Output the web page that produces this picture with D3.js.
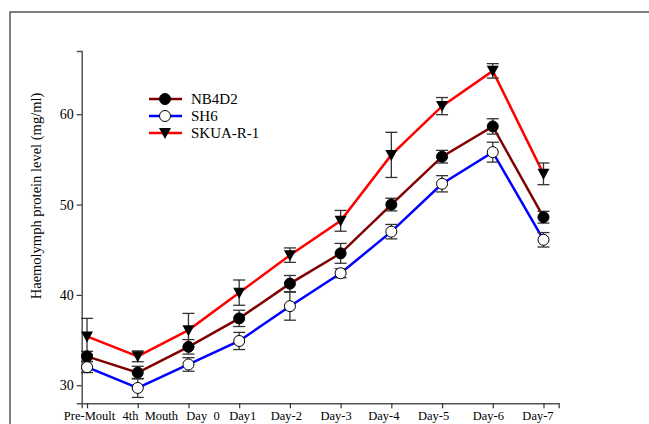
<!DOCTYPE html>
<html>
<head>
<meta charset="utf-8">
<script src="https://cdn.jsdelivr.net/npm/d3@7"></script>
<style>
  body { margin: 0; background: #fff; }
</style>
</head>
<body>
<svg id="chart"></svg>
<script>
// Các nhãn trục X
const categories = ["Pre-Moult", "4th  Mouth", "Day  0", "Day1", "Day-2", "Day-3", "Day-4", "Day-5", "Day-6", "Day-7"];

// Giá trị từng dòng (mg/ml) và sai số
const nb4d2 = [33.2, 31.4, 34.25, 37.4, 41.25, 44.6, 50.0, 55.3, 58.65, 48.6];
const nb4d2Err = [0.55, 0.7, 0.8, 0.9, 0.9, 1.1, 0.7, 0.7, 0.85, 0.65];
const sh6 = [32.0, 29.7, 32.3, 34.9, 38.75, 42.4, 47.0, 52.3, 55.8, 46.1];
const sh6Err = [0.6, 1.05, 0.75, 0.95, 1.55, 0.5, 0.8, 0.9, 1.1, 0.8];
const skua = [35.4, 33.2, 36.1, 40.25, 44.4, 48.2, 55.5, 60.9, 64.8, 53.4];
const skuaErr = [2.0, 0.6, 1.85, 1.4, 0.8, 1.15, 2.5, 0.95, 0.8, 1.2];

const yTicks = [30, 40, 50, 60];

const series = [
  { name: "NB4D2", values: nb4d2, err: nb4d2Err, color: "#800000", marker: "dot" },
  { name: "SH6", values: sh6, err: sh6Err, color: "#0000ff", marker: "open" },
  { name: "SKUA-R-1", values: skua, err: skuaErr, color: "#ff0000", marker: "tri" }
];

// nhãn trục X trong ảnh gốc hơi lệch khỏi vạch chia (px)
const labelShift = [2, 12, 14, 3, -4, -5, -8, -9, -5, -6];

const FONT = "'Liberation Serif', 'Times New Roman', 'DejaVu Serif', serif";

const width = 649, height = 424;
const svg = d3.select("#chart").attr("width", width).attr("height", height)
  .attr("font-family", FONT);

// Khung viền ngoài
svg.append("rect")
  .attr("x", 10).attr("y", 12)
  .attr("width", 700).attr("height", 500)
  .attr("fill", "none").attr("stroke", "#555").attr("stroke-width", 1.5);

// Tỷ lệ trục
const x = d3.scaleLinear().domain([-0.105, 9.3]).range([81.7, 558.7]);
const y = d3.scaleLinear().domain([28, 67]).range([403.3, 51]);

// Trục X
const xAxis = svg.append("g")
  .attr("transform", `translate(0, ${y(28)})`)
  .call(d3.axisBottom(x)
    .tickValues(d3.range(categories.length))
    .tickFormat(i => categories[i])
    .tickSizeOuter(0).tickSize(5));
xAxis.attr("font-family", FONT);
xAxis.select(".domain").attr("stroke", "#555").attr("stroke-width", 1.5);
xAxis.selectAll(".tick line").attr("stroke", "#333").attr("stroke-width", 1.2);
xAxis.selectAll("text")
  .attr("font-family", FONT)
  .attr("font-size", 12.5)
  .attr("xml:space", "preserve")
  .style("white-space", "pre")
  .attr("x", i => labelShift[i])
  .attr("y", 8)
  .attr("dy", "0.71em");

// Trục Y
const yAxis = svg.append("g")
  .attr("transform", `translate(${x(-0.105)}, 0)`)
  .call(d3.axisLeft(y).tickValues(yTicks).tickSizeOuter(0).tickSize(5));
yAxis.attr("font-family", FONT);
yAxis.select(".domain").attr("stroke", "#555").attr("stroke-width", 1.5);
yAxis.selectAll(".tick line").attr("stroke", "#333").attr("stroke-width", 1.2);
yAxis.selectAll("text").attr("font-family", FONT).attr("font-size", 14).attr("x", -8);

// Tiêu đề trục Y
svg.append("text")
  .attr("transform", "translate(41, 196) rotate(-90)")
  .attr("text-anchor", "middle")
  .attr("font-family", FONT)
  .attr("font-size", 14.5)
  .text("Haemolymph protein level (mg/ml)");

// Đường nối
const line = d3.line().x((d, i) => x(i)).y(d => y(d));
series.forEach(s => {
  svg.append("path")
    .datum(s.values)
    .attr("d", line)
    .attr("fill", "none")
    .attr("stroke", s.color)
    .attr("stroke-width", 2.5);
});

// Thanh sai số
const cap = 6;
series.forEach(s => {
  const g = svg.append("g").attr("stroke", "#333").attr("stroke-width", 1.3);
  s.values.forEach((v, i) => {
    const cx = x(i), top = y(v + s.err[i]), bot = y(v - s.err[i]);
    g.append("line").attr("x1", cx).attr("x2", cx).attr("y1", top).attr("y2", bot);
    g.append("line").attr("x1", cx - cap).attr("x2", cx + cap).attr("y1", top).attr("y2", top);
    g.append("line").attr("x1", cx - cap).attr("x2", cx + cap).attr("y1", bot).attr("y2", bot);
  });
});

// Ký hiệu điểm
function drawMarker(g, type, cx, cy) {
  if (type === "tri") {
    g.append("path")
      .attr("d", `M${cx - 6},${cy - 5} L${cx + 6},${cy - 5} L${cx},${cy + 6} Z`)
      .attr("fill", "#000");
  } else {
    g.append("circle")
      .attr("cx", cx).attr("cy", cy).attr("r", 5.5)
      .attr("fill", type === "dot" ? "#000" : "#fff")
      .attr("stroke", "#000").attr("stroke-width", 1);
  }
}
series.forEach(s => {
  const g = svg.append("g");
  s.values.forEach((v, i) => drawMarker(g, s.marker, x(i), y(v)));
});

// Chú thích
const legendY = [99, 116, 133];
series.forEach((s, i) => {
  const g = svg.append("g");
  g.append("line")
    .attr("x1", 149).attr("x2", 182)
    .attr("y1", legendY[i]).attr("y2", legendY[i])
    .attr("stroke", s.color).attr("stroke-width", 2.5);
  drawMarker(g, s.marker, 165, legendY[i]);
  g.append("text")
    .attr("x", 191).attr("y", legendY[i])
    .attr("dy", "0.35em")
    .attr("font-family", FONT)
    .attr("font-size", 15)
    .text(s.name);
});
</script>
</body>
</html>
